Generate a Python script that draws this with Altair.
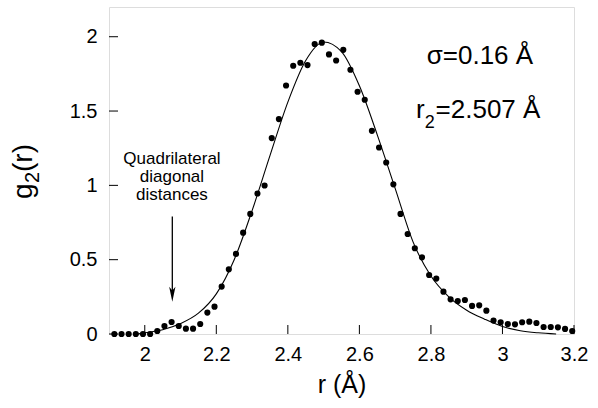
import altair as alt
import pandas as pd

# ---- data ----
r_points = [1.915, 1.935, 1.955, 1.975, 1.995, 2.015, 2.035, 2.055, 2.075, 2.095,
            2.115, 2.135, 2.155, 2.175, 2.195, 2.215, 2.235, 2.255, 2.275, 2.295,
            2.315, 2.335, 2.355, 2.375, 2.395, 2.415, 2.435, 2.455, 2.475, 2.495,
            2.515, 2.535, 2.555, 2.575, 2.595, 2.615, 2.635, 2.655, 2.675, 2.695,
            2.715, 2.735, 2.755, 2.775, 2.795, 2.815, 2.835, 2.855, 2.875, 2.895,
            2.915, 2.935, 2.955, 2.975, 2.995, 3.015, 3.035, 3.055, 3.075, 3.095,
            3.115, 3.135, 3.155, 3.175, 3.195]
g_points = [0.0, 0.0, 0.0, 0.0, 0.0, 0.0, 0.02, 0.054, 0.081, 0.054,
            0.036, 0.036, 0.067, 0.144, 0.184, 0.319, 0.435, 0.539, 0.682, 0.808,
            0.945, 0.999, 1.318, 1.446, 1.672, 1.805, 1.825, 1.809, 1.951, 1.960,
            1.881, 1.840, 1.912, 1.778, 1.630, 1.576, 1.367, 1.255, 1.154, 1.007,
            0.808, 0.673, 0.577, 0.516, 0.397, 0.373, 0.285, 0.233, 0.222, 0.229,
            0.189, 0.193, 0.157, 0.090, 0.079, 0.067, 0.065, 0.079, 0.083, 0.074,
            0.047, 0.047, 0.045, 0.034, 0.020]

r_fit = [1.98, 2.00, 2.05, 2.10, 2.15, 2.20, 2.25, 2.30, 2.35, 2.40, 2.45, 2.50,
         2.55, 2.60, 2.65, 2.70, 2.75, 2.80, 2.85, 2.90, 2.95, 3.00, 3.05, 3.10, 3.15]
g_fit = [0.0, 0.008, 0.028, 0.07, 0.14, 0.27, 0.50, 0.83, 1.20, 1.56, 1.84, 1.965,
         1.90, 1.67, 1.34, 0.98, 0.62, 0.39, 0.25, 0.16, 0.10, 0.05, 0.022, 0.008, 0.0]

x_ticks = [2.0, 2.2, 2.4, 2.6, 2.8, 3.0, 3.2]
y_ticks = [0.0, 0.5, 1.0, 1.5, 2.0]

note_text = "Quadrilateral\ndiagonal\ndistances"
note_pos = [2.076, 1.145]

arrow_r = [2.077]
arrow_top = [0.79]
arrow_head = [0.268]

sigma_text = ["σ=0.16 Å"]
sigma_pos = [2.937, 1.818]
r2_parts = ["r", "2", "=2.507 Å"]
r2_r = [2.758, 2.783, 2.813]
r2_g = [1.452, 1.385, 1.452]

FONT = "Liberation Sans"
W, H = 465, 327

xs = alt.Scale(domain=[1.9, 3.2], nice=False, zero=False)
ys = alt.Scale(domain=[0, 2.2], nice=False, zero=False)

x_axis = alt.Axis(values=x_ticks, format="~g", ticks=False, domain=False, grid=False,
                  labelFont=FONT, labelFontSize=20, labelColor="black", labelPadding=10,
                  title="r (Å)", titleFont=FONT, titleFontSize=25, titleFontWeight="normal",
                  titleColor="black", titlePadding=8, labelFlush=False)
y_axis = alt.Axis(values=y_ticks, format="~g", ticks=False, domain=False, grid=False,
                  labelFont=FONT, labelFontSize=20, labelColor="black", labelPadding=12,
                  title=None, labelFlush=False)


def X(field):
    return alt.X(field, scale=xs, axis=x_axis)


def Y(field):
    return alt.Y(field, scale=ys, axis=y_axis)


pts = pd.DataFrame({"r": r_points, "g": g_points})
fit = pd.DataFrame({"r": r_fit, "g": g_fit})

points = alt.Chart(pts).mark_circle(size=38, color="black", opacity=1).encode(
    x=X("r:Q"), y=Y("g:Q"))

line = alt.Chart(fit).mark_line(color="black", strokeWidth=1.1, interpolate="monotone").encode(
    x=X("r:Q"), y=Y("g:Q"))

xt = alt.Chart(pd.DataFrame({"r": x_ticks})).mark_rule(color="black", strokeWidth=1).encode(
    x=X("r:Q"), y=alt.value(H), y2=alt.value(H - 9))
yt = alt.Chart(pd.DataFrame({"g": y_ticks})).mark_rule(color="black", strokeWidth=1).encode(
    y=Y("g:Q"), x=alt.value(0), x2=alt.value(9))

arrow_df = pd.DataFrame({"r": arrow_r, "g": arrow_top, "head": arrow_head})
shaft = alt.Chart(arrow_df).mark_rule(color="black", strokeWidth=1.3).encode(
    x=X("r:Q"), y=Y("g:Q"), y2="head:Q")
head = alt.Chart(pd.DataFrame({"r": arrow_r, "g": arrow_head})).mark_point(
    shape="M0,1L-0.42,-1L0,-0.5L0.42,-1Z", size=225, filled=True,
    color="black", opacity=1, strokeWidth=0,
).encode(x=X("r:Q"), y=Y("g:Q"))

note = alt.Chart(pd.DataFrame({"t": [note_text], "r": [note_pos[0]], "g": [note_pos[1]]})).mark_text(
    font=FONT, fontSize=17, color="black", align="center", baseline="alphabetic",
    lineBreak="\n", lineHeight=18,
).encode(x=X("r:Q"), y=Y("g:Q"), text="t:N")

sigma = alt.Chart(pd.DataFrame({"t": sigma_text, "r": [sigma_pos[0]], "g": [sigma_pos[1]]})).mark_text(
    font=FONT, fontSize=26, color="black", align="center", baseline="alphabetic"
).encode(x=X("r:Q"), y=Y("g:Q"), text="t:N")

r2_layers = []
for t, rv, gv, fs in zip(r2_parts, r2_r, r2_g, [26, 18, 26]):
    r2_layers.append(
        alt.Chart(pd.DataFrame({"t": [t], "r": [rv], "g": [gv]})).mark_text(
            font=FONT, fontSize=fs, color="black", align="left", baseline="alphabetic"
        ).encode(x=X("r:Q"), y=Y("g:Q"), text="t:N")
    )

# y-axis title g2(r) with a real subscript, rotated (pixel offsets from the plot's corner)
yt_parts = ["g", "2", "(r)"]
yt_px = [-77, -70, -77]
yt_py = [192, 176, 165]
yt_fs = [28, 20, 28]
ytitle_layers = []
for t, px, py, fs in zip(yt_parts, yt_px, yt_py, yt_fs):
    ytitle_layers.append(
        alt.Chart(pd.DataFrame({"t": [t]})).mark_text(
            font=FONT, fontSize=fs, color="black", align="left", baseline="alphabetic", angle=270
        ).encode(x=alt.value(px), y=alt.value(py), text="t:N")
    )

chart = alt.layer(points, line, xt, yt, shaft, head, note, sigma, *r2_layers, *ytitle_layers).properties(
    width=W, height=H,
    padding={"left": 109, "top": 7, "right": 24, "bottom": 74},
    autosize=alt.AutoSizeParams(type="none"),
).configure_view(stroke="black", strokeWidth=1).configure(background="white")

chart.save("out.html", embed_options={"renderer": "svg", "actions": False})
